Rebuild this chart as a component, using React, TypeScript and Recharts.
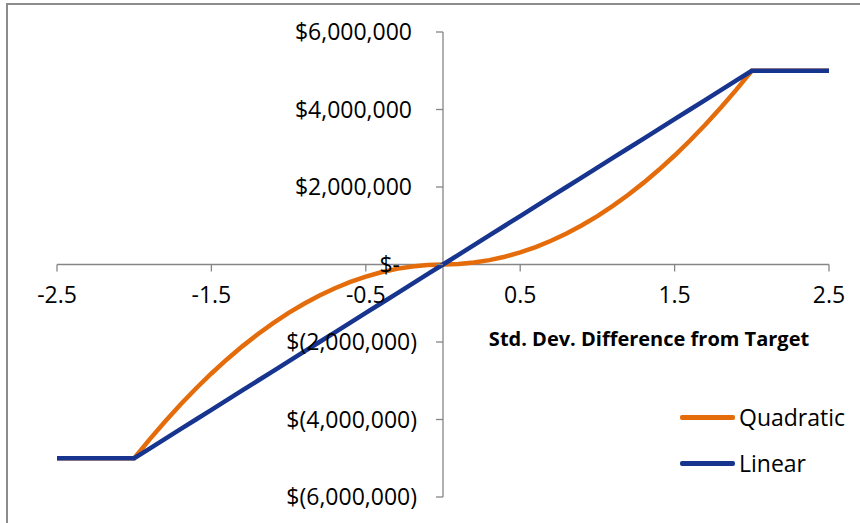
import { LineChart, Line, XAxis, YAxis, ReferenceLine } from 'recharts';

// x positions (std. dev. difference from target)
const stdDev = [
  -2.5, -2.0, -1.9, -1.8, -1.7, -1.6, -1.5, -1.4, -1.3, -1.2, -1.1, -1.0, -0.9, -0.8, -0.7, -0.6, -0.5, -0.4, -0.3,
  -0.2, -0.1, 0, 0.1, 0.2, 0.3, 0.4, 0.5, 0.6, 0.7, 0.8, 0.9, 1.0, 1.1, 1.2, 1.3, 1.4, 1.5, 1.6, 1.7, 1.8, 1.9, 2.0,
  2.5,
];

const quadratic = [
  -5000000, -5000000, -4512500, -4050000, -3612500, -3200000, -2812500, -2450000, -2112500, -1800000, -1512500,
  -1250000, -1012500, -800000, -612500, -450000, -312500, -200000, -112500, -50000, -12500, 0, 12500, 50000, 112500,
  200000, 312500, 450000, 612500, 800000, 1012500, 1250000, 1512500, 1800000, 2112500, 2450000, 2812500, 3200000,
  3612500, 4050000, 4512500, 5000000, 5000000,
];

const linear = [
  -5000000, -5000000, -4750000, -4500000, -4250000, -4000000, -3750000, -3500000, -3250000, -3000000, -2750000,
  -2500000, -2250000, -2000000, -1750000, -1500000, -1250000, -1000000, -750000, -500000, -250000, 0, 250000, 500000,
  750000, 1000000, 1250000, 1500000, 1750000, 2000000, 2250000, 2500000, 2750000, 3000000, 3250000, 3500000, 3750000,
  4000000, 4250000, 4500000, 4750000, 5000000, 5000000,
];

const xTicks = [-2.5, -1.5, -0.5, 0.5, 1.5, 2.5];
const yTicks = [-6000000, -4000000, -2000000, 0, 2000000, 4000000, 6000000];

const seriesInfo = [
  { key: 'quadratic', name: 'Quadratic', color: '#E46C0A' },
  { key: 'linear', name: 'Linear', color: '#17358F' },
];

const chartData = stdDev.map((x, i) => ({ x, quadratic: quadratic[i], linear: linear[i] }));

const W = 860;
const H = 523;
const X_AXIS_H = 26;
const Y_AXIS_W = 57;
const MARGIN = { top: 32, right: 31, bottom: 0, left: 0 };
// axes cross at zero (domains are symmetric, so zero sits mid-plot)
const ZERO_X = Y_AXIS_W + (W - Y_AXIS_W - MARGIN.right) / 2;
const ZERO_Y = MARGIN.top + (H - MARGIN.top - X_AXIS_H) / 2;

const AXIS = '#868686';
const FONT = '"Open Sans", sans-serif';
const LABEL_SIZE = 23;

const fmtMoney = (v: number) => {
  if (v === 0) return '$-';
  const s = Math.abs(v).toLocaleString('en-US');
  return v < 0 ? `$(${s})` : `$${s}`;
};

const XTick = (props: any) => {
  const { x, payload } = props;
  return (
    <g>
      <line x1={x} y1={ZERO_Y} x2={x} y2={ZERO_Y + 7} stroke={AXIS} strokeWidth={1.3} />
      <text x={x} y={ZERO_Y + 38} textAnchor="middle" fontSize={LABEL_SIZE} fontFamily={FONT} fill="#000">
        {payload.value}
      </text>
    </g>
  );
};

const YTick = (props: any) => {
  const { y, payload } = props;
  const v = payload.value as number;
  // accounting format: negatives end with ")", positives padded, zero shows "$-"
  const right = v === 0 ? 400 : v < 0 ? 417 : 412;
  return (
    <g>
      <line x1={ZERO_X - 7} y1={y} x2={ZERO_X} y2={y} stroke={AXIS} strokeWidth={1.3} />
      <text x={right} y={y + 8} textAnchor="end" fontSize={LABEL_SIZE} fontFamily={FONT} fill="#000">
        {fmtMoney(v)}
      </text>
    </g>
  );
};

export default function App() {
  return (
    <div style={{ position: 'fixed', left: 0, top: 0, width: W, height: H, background: '#fff' }}>
      <div
        style={{
          position: 'absolute',
          left: 6,
          top: 3,
          right: 0,
          bottom: 0,
          borderTop: '2px solid #8c8c8c',
          borderLeft: '2px solid #8c8c8c',
        }}
      />
      <LineChart width={W} height={H} data={chartData} margin={MARGIN} style={{ position: 'absolute', left: 0, top: 0 }}>
        <XAxis
          dataKey="x"
          type="number"
          domain={[-2.5, 2.5]}
          ticks={xTicks}
          height={X_AXIS_H}
          axisLine={false}
          tickLine={false}
          tick={<XTick />}
          interval={0}
        />
        <YAxis
          type="number"
          domain={[-6000000, 6000000]}
          ticks={yTicks}
          width={Y_AXIS_W}
          axisLine={false}
          tickLine={false}
          tick={<YTick />}
          interval={0}
        />
        <ReferenceLine y={0} stroke={AXIS} strokeWidth={1.3} />
        <ReferenceLine x={0} stroke={AXIS} strokeWidth={1.3} />
        {seriesInfo.map((s) => (
          <Line
            key={s.key}
            type="linear"
            dataKey={s.key}
            name={s.name}
            stroke={s.color}
            strokeWidth={4.5}
            dot={false}
            isAnimationActive={false}
          />
        ))}
      </LineChart>
      <div
        style={{
          position: 'absolute',
          left: 649,
          top: 338,
          transform: 'translate(-50%, -50%)',
          fontFamily: FONT,
          fontWeight: 700,
          fontSize: 20,
          whiteSpace: 'nowrap',
          color: '#000',
        }}
      >
        Std. Dev. Difference from Target
      </div>
      <div style={{ position: 'absolute', left: 680, top: 394, fontFamily: FONT, fontSize: LABEL_SIZE, color: '#000' }}>
        {seriesInfo.map((s) => (
          <div key={s.key} style={{ display: 'flex', alignItems: 'center', height: 46 }}>
            <div style={{ width: 55, height: 5, background: s.color, borderRadius: 2, marginRight: 4 }} />
            <span>{s.name}</span>
          </div>
        ))}
      </div>
    </div>
  );
}
